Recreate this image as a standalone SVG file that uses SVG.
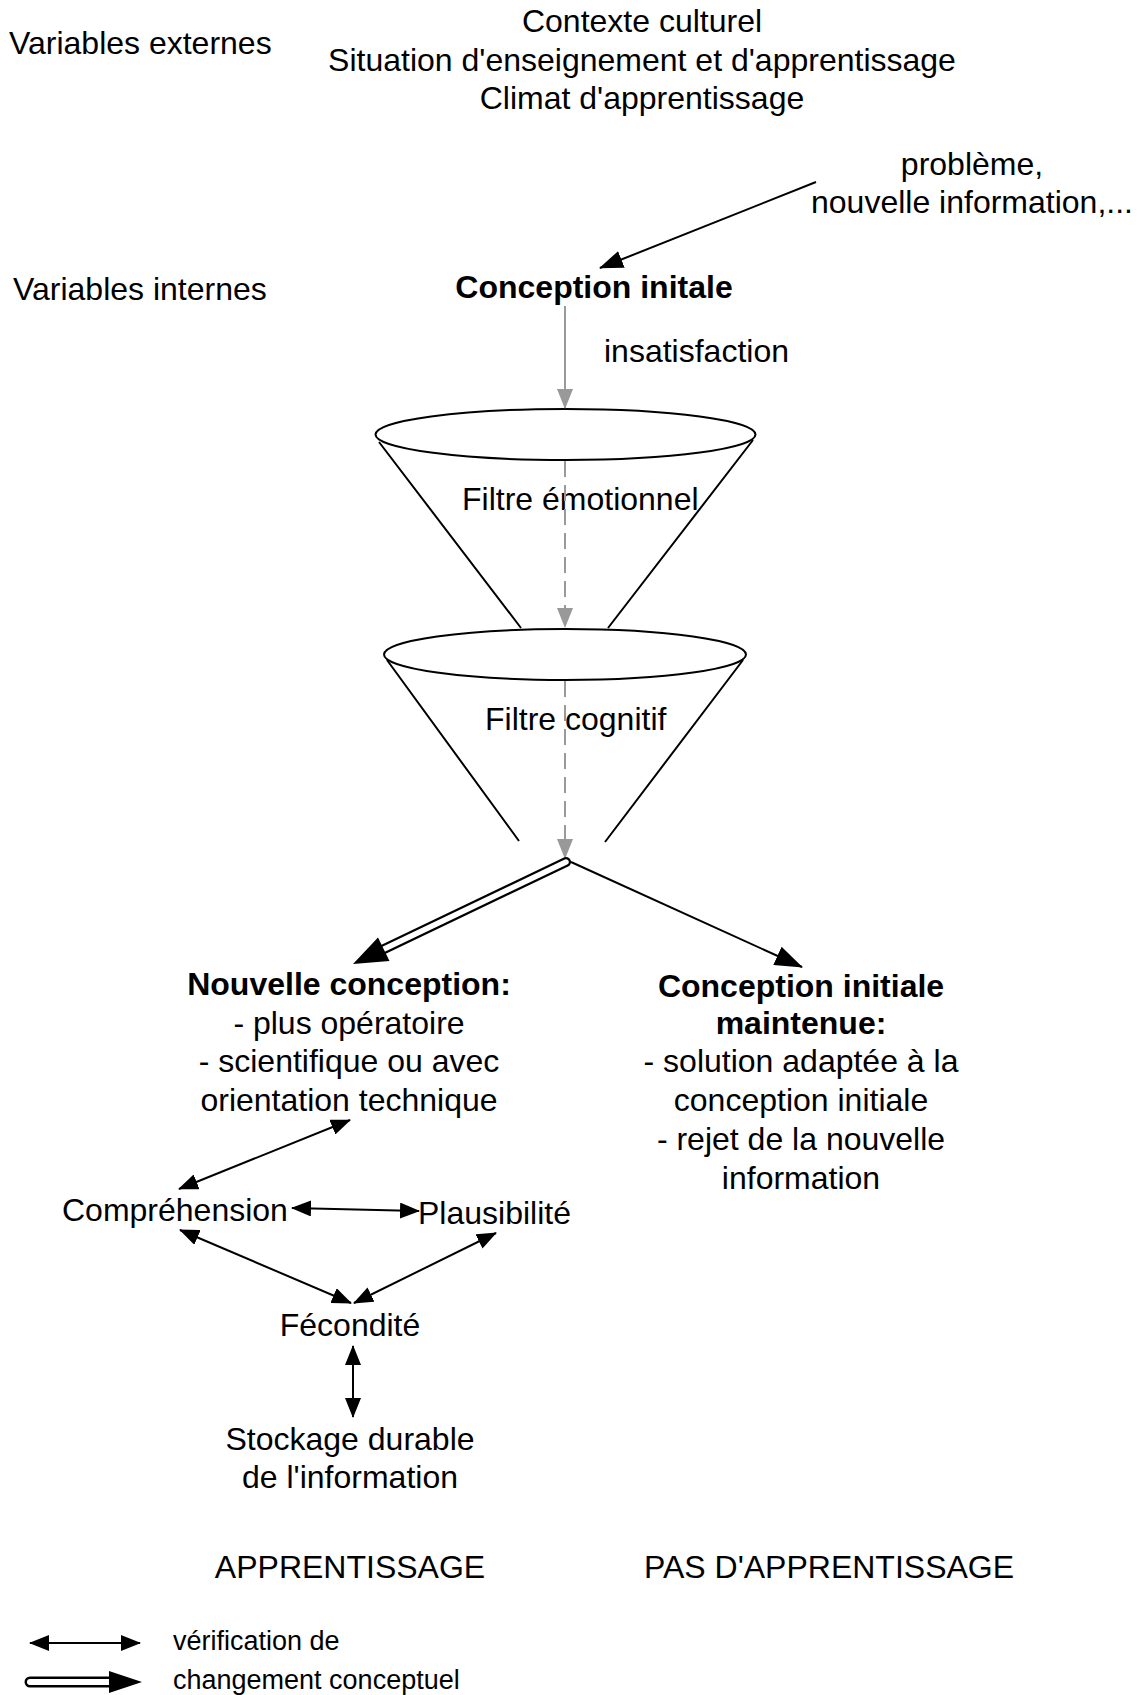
<svg xmlns="http://www.w3.org/2000/svg" width="1142" height="1695" viewBox="0 0 1142 1695">
<style>
text{font-family:"Liberation Sans",Arial,Helvetica,sans-serif;font-size:32px;fill:#000}
.b{font-weight:bold}
.m{text-anchor:middle}
.s{font-size:27px}
.ln{fill:none;stroke:#000;stroke-width:2}
.gr{fill:none;stroke:#999;stroke-width:2}
.da{stroke-dasharray:16 8}
.fun{fill:none;stroke:#000;stroke-width:2}
</style>
<defs>
<marker id="ah" viewBox="0 0 20 16" markerWidth="20" markerHeight="16" refX="19" refY="8" markerUnits="userSpaceOnUse" orient="auto-start-reverse"><path d="M0,0 L20,8 L0,16 z" fill="#000"/></marker>
<marker id="ahL" viewBox="0 0 24 18" markerWidth="24" markerHeight="18" refX="23" refY="9" markerUnits="userSpaceOnUse" orient="auto"><path d="M0,0 L24,9 L0,18 z" fill="#000"/></marker>
<marker id="ahR" viewBox="0 0 28 20" markerWidth="28" markerHeight="20" refX="27" refY="10" markerUnits="userSpaceOnUse" orient="auto"><path d="M0,0 L28,10 L0,20 z" fill="#000"/></marker>
<marker id="ahG" viewBox="0 0 20 16" markerWidth="20" markerHeight="16" refX="19" refY="8" markerUnits="userSpaceOnUse" orient="auto"><path d="M0,0 L20,8 L0,16 z" fill="#999"/></marker>
</defs>
<rect width="1142" height="1695" fill="#fff"/>

<g id="labels">
<text x="9" y="54">Variables externes</text>
<text x="13" y="300">Variables internes</text>
</g>

<g id="external">
<text class="m" x="642" y="32">Contexte culturel</text>
<text class="m" x="642" y="71">Situation d'enseignement et d'apprentissage</text>
<text class="m" x="642" y="109">Climat d'apprentissage</text>
</g>

<g id="probleme">
<text class="m" x="972" y="175">problème,</text>
<text class="m" x="972" y="213">nouvelle information,...</text>
</g>

<g id="conception-initiale">
<text class="b m" x="594" y="298">Conception initale</text>
</g>

<g id="insatisfaction">
<text x="604" y="362">insatisfaction</text>
</g>

<g id="filtre-emotionnel">
<path class="fun" d="M379,442 L521,628 M753,440 L608,628"/>
<ellipse cx="565.5" cy="434.5" rx="190" ry="25.5" fill="#fff" stroke="#000" stroke-width="2"/>
<text x="462" y="510">Filtre émotionnel</text>
</g>

<g id="filtre-cognitif">
<path class="fun" d="M387,660 L519,841 M743,660 L605,842"/>
<ellipse cx="565" cy="654.5" rx="181" ry="25.5" fill="#fff" stroke="#000" stroke-width="2"/>
<text x="485" y="730">Filtre cognitif</text>
</g>

<g id="nouvelle-conception">
<text class="b m" x="349" y="995">Nouvelle conception:</text>
<text class="m" x="349" y="1034">- plus opératoire</text>
<text class="m" x="349" y="1072">- scientifique ou avec</text>
<text class="m" x="349" y="1111">orientation technique</text>
</g>

<g id="conception-maintenue">
<text class="b m" x="801" y="997">Conception initiale</text>
<text class="b m" x="801" y="1034">maintenue:</text>
<text class="m" x="801" y="1072">- solution adaptée à la</text>
<text class="m" x="801" y="1111">conception initiale</text>
<text class="m" x="801" y="1150">- rejet de la nouvelle</text>
<text class="m" x="801" y="1189">information</text>
</g>

<g id="comprehension"><text x="62" y="1221">Compréhension</text></g>
<g id="plausibilite"><text x="418" y="1224">Plausibilité</text></g>
<g id="fecondite"><text class="m" x="350" y="1336">Fécondité</text></g>
<g id="stockage">
<text class="m" x="350" y="1450">Stockage durable</text>
<text class="m" x="350" y="1488">de l'information</text>
</g>
<g id="apprentissage"><text class="m" x="350" y="1578">APPRENTISSAGE</text></g>
<g id="pas-apprentissage"><text x="644" y="1578">PAS D'APPRENTISSAGE</text></g>

<g id="connectors">
<line class="ln" x1="816" y1="182" x2="600" y2="268" marker-end="url(#ahL)"/>
<line class="gr" x1="565" y1="306" x2="565" y2="408" marker-end="url(#ahG)"/>
<line class="gr da" x1="565" y1="461" x2="565" y2="627" marker-end="url(#ahG)"/>
<line class="gr da" x1="565" y1="681" x2="565" y2="858" marker-end="url(#ahG)"/>
<line x1="566" y1="862" x2="380" y2="951" stroke="#000" stroke-width="10" stroke-linecap="round"/>
<line x1="566" y1="862" x2="382" y2="950" stroke="#fff" stroke-width="5.5" stroke-linecap="round"/>
<polygon points="353,964 378,937.5 389.5,961" fill="#000"/>
<line class="ln" x1="571" y1="862" x2="802" y2="967" marker-end="url(#ahR)"/>
<line class="ln" x1="350" y1="1120" x2="179" y2="1189" marker-start="url(#ah)" marker-end="url(#ah)"/>
<line class="ln" x1="292" y1="1208" x2="419" y2="1211" marker-start="url(#ah)" marker-end="url(#ah)"/>
<line class="ln" x1="180" y1="1230" x2="351" y2="1303" marker-start="url(#ah)" marker-end="url(#ah)"/>
<line class="ln" x1="496" y1="1233" x2="354" y2="1303" marker-start="url(#ah)" marker-end="url(#ah)"/>
<line class="ln" x1="353" y1="1346" x2="353" y2="1417" marker-start="url(#ah)" marker-end="url(#ah)"/>
</g>

<g id="legend">
<line class="ln" x1="30" y1="1643" x2="140" y2="1643" marker-start="url(#ah)" marker-end="url(#ah)"/>
<text class="s" x="173" y="1650">vérification de</text>
<line x1="30" y1="1682" x2="112" y2="1682" stroke="#000" stroke-width="11" stroke-linecap="round"/>
<line x1="30" y1="1682" x2="112" y2="1682" stroke="#fff" stroke-width="6" stroke-linecap="round"/>
<polygon points="109,1671 142,1682 109,1693" fill="#000"/>
<text class="s" x="173" y="1689">changement conceptuel</text>
</g>
</svg>
